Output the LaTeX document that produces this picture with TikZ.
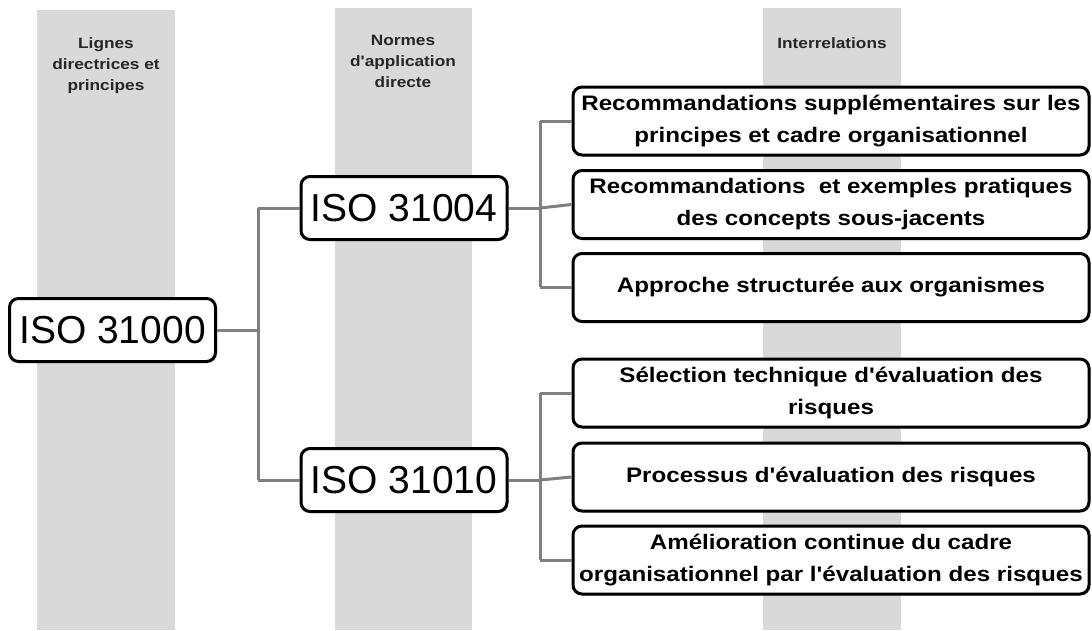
\documentclass[tikz,border=0pt]{standalone}
\usepackage{fontspec}
\setmainfont{Liberation Sans}[Ligatures=TeXOff]
\newfontfamily\widefont{Liberation Sans}[Ligatures=TeXOff, FakeStretch=1.15]
\usetikzlibrary{shadows}
\definecolor{colgray}{RGB}{217,217,217}
\definecolor{linkgray}{RGB}{128,128,128}
\tikzset{
  column/.style={fill=colgray, draw=none},
  header/.style={font=\widefont\fontsize{15}{21}\selectfont\bfseries, align=center, text=black!85},
  isobox/.style={draw=black, line width=3pt, rounded corners=9pt, fill=white,
    minimum width=206pt, minimum height=63pt, inner sep=0pt,
    font=\fontsize{39}{44}\selectfont,
    drop shadow={shadow xshift=1.5pt, shadow yshift=-1.5pt, opacity=0.35}},
  textbox/.style={draw=black, line width=3pt, rounded corners=9pt, fill=white,
    minimum width=516pt, minimum height=68pt, inner sep=0pt, align=center,
    font=\widefont\fontsize{21}{32}\selectfont\bfseries,
    drop shadow={shadow xshift=1.5pt, shadow yshift=-1.5pt, opacity=0.35}},
  link/.style={draw=linkgray, line width=3pt}
}
\begin{document}
\begin{tikzpicture}[x=1pt,y=1pt]
\useasboundingbox (0,0) rectangle (1092,-630);
% columns
\fill[column] (37,-10) rectangle (175,-630);
\fill[column] (335,-8) rectangle (472,-630);
\fill[column] (763,-8) rectangle (901,-630);
\node[header] (h1) at (106,-66) {Lignes\\directrices et\\principes};
\node[header] (h2) at (403,-61) {Normes\\d'application\\directe};
\node[header] (h3) at (832,-43) {Interrelations};
% coordinates for trunks
\coordinate (t0a) at (258,-208);
\coordinate (t0b) at (258,-480);
\coordinate (t0m) at (258,-330);
\coordinate (t1a) at (540,-121);
\coordinate (t1m) at (540,-208);
\coordinate (t1c) at (540,-287);
\coordinate (t2a) at (540,-393);
\coordinate (t2m) at (540,-480);
\coordinate (t2c) at (540,-560);
% links drawn first
\draw[link] (t0a) -- (t0b);
\draw[link] (t1a) -- (t1c);
\draw[link] (t2a) -- (t2c);
% nodes
\node[isobox] (iso0) at (112.5,-330) {ISO 31000};
\node[isobox] (iso4) at (404,-208) {ISO 31004};
\node[isobox] (iso10) at (404,-480) {ISO 31010};
\node[textbox] (r1) at (831,-121) {Recommandations supplémentaires sur les\\principes et cadre organisationnel};
\node[textbox] (r2) at (831,-204.5) {Recommandations\ \ et exemples pratiques\\des concepts sous-jacents};
\node[textbox] (r3) at (831,-287.5) {Approche structurée aux organismes};
\node[textbox] (r4) at (831,-393) {Sélection technique d'évaluation des\\risques};
\node[textbox] (r5) at (831,-477) {Processus d'évaluation des risques};
\node[textbox] (r6) at (831,-560) {Amélioration continue du cadre\\organisationnel par l'évaluation des risques};
% stubs
\draw[link] (iso0.east) -- (t0m);
\draw[link] (t0a) -- (iso4.west);
\draw[link] (t0b) -- (iso10.west);
\draw[link] (iso4.east) -- (t1m);
\draw[link] (t1a) -- (r1.west |- t1a);
\draw[link] (t1m) -- (r2.west);
\draw[link] (t1c) -- (r3.west |- t1c);
\draw[link] (iso10.east) -- (t2m);
\draw[link] (t2a) -- (r4.west |- t2a);
\draw[link] (t2m) -- (r5.west);
\draw[link] (t2c) -- (r6.west |- t2c);
\end{tikzpicture}
\end{document}
